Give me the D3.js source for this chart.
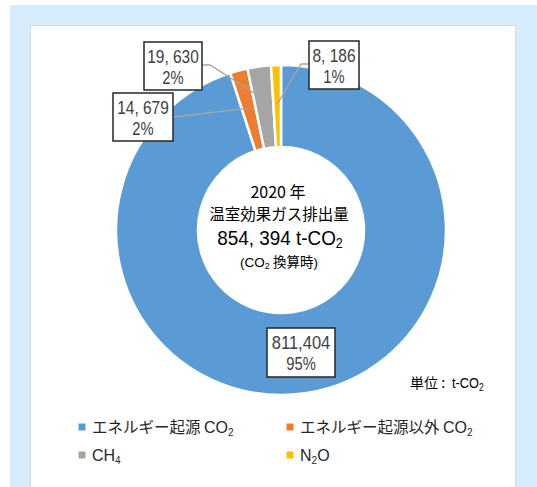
<!DOCTYPE html>
<html>
<head>
<meta charset="utf-8">
<script src="https://cdn.jsdelivr.net/npm/d3@7"></script>
<style>
  body { margin: 0; background: #fff; }
  svg { display: block; }
  .num { font-family: "Liberation Sans", Arial, sans-serif; }
  .jp { font-family: "Noto Sans CJK JP", sans-serif; }
</style>
</head>
<body>
<script>
// data
const categories = ["エネルギー起源 CO2", "エネルギー起源以外 CO2", "CH4", "N2O"];
const values = [811404, 14679, 19630, 8186];
const percents = ["95%", "2%", "2%", "1%"];
const colors = ["#5b9bd5", "#ed7d31", "#a5a5a5", "#ffc000"];
const totalLabel = "854,394";
const year = "2020";

const width = 537, height = 487;
const svg = d3.select("body").append("svg")
    .attr("width", width)
    .attr("height", height);

// panels
svg.append("rect").attr("x", 10).attr("y", 5).attr("width", 527).attr("height", 482).attr("fill", "#d6ebfb");
svg.append("rect").attr("x", 30.5).attr("y", 25.5).attr("width", 485).attr("height", 470)
    .attr("fill", "#fff").attr("stroke", "#d9d9d9").attr("stroke-width", 1);

const cx = 281, cy = 230, R = 165, r0 = 83;
const g = svg.append("g").attr("transform", `translate(${cx},${cy})`);

const pie = d3.pie().sort(null).value(d => d);
const arcs = pie(values);
const arc = d3.arc().innerRadius(r0).outerRadius(R);

g.selectAll("path.slice")
    .data(arcs)
    .enter()
    .append("path")
    .attr("class", "slice")
    .attr("d", arc)
    .attr("fill", (d, i) => colors[i])
    .attr("stroke", "#fff")
    .attr("stroke-width", 2.5);

// point on a slice's mid angle at given radius
function pt(d, rad) {
    const a = (d.startAngle + d.endAngle) / 2;
    return [cx + rad * Math.sin(a), cy - rad * Math.cos(a)];
}

// narrow text: squeeze horizontally around the anchor point
function narrow(x, y, sx) {
    return svg.append("g").attr("transform", `translate(${x},${y}) scale(${sx},1)`)
        .append("text").attr("class", "num");
}

// label boxes and leader lines
const boxes = [
    {x: 267, y: 328, w: 68, h: 49},
    {x: 113, y: 93, w: 60, h: 48, side: "right"},
    {x: 144, y: 42, w: 58, h: 48, side: "right"},
    {x: 309, y: 41, w: 50, h: 48, side: "left"}
];
const fmt = d3.format(",");

boxes.forEach((b, i) => {
    if (!b.side) return;
    const end = pt(arcs[i], i === 2 ? 132 : 126);
    const yMid = b.y + b.h / 2;
    let pts;
    if (b.side === "right") {
        const x0 = b.x + b.w;
        pts = i === 2 ? [[x0, yMid - 1], [x0 + 8, yMid - 1], end] : [[x0, yMid], end];
    } else {
        pts = [[b.x, yMid - 1], [b.x - 8, yMid - 1], end];
    }
    svg.append("path")
        .attr("d", d3.line()(pts))
        .attr("fill", "none")
        .attr("stroke", "#a6a6a6")
        .attr("stroke-width", 1.3);
});

boxes.forEach((b, i) => {
    svg.append("rect")
        .attr("x", b.x).attr("y", b.y).attr("width", b.w).attr("height", b.h)
        .attr("fill", "#fff").attr("stroke", "#262626").attr("stroke-width", 1.5);
    narrow(b.x + b.w / 2, b.y + 21, i === 0 ? 0.92 : 0.86)
        .attr("text-anchor", "middle").attr("fill", "#404040").attr("font-size", 18)
        .text(i === 0 ? fmt(values[i]) : fmt(values[i]).replace(/,/g, ", "));
    narrow(b.x + b.w / 2, b.y + 42, 0.82)
        .attr("text-anchor", "middle").attr("fill", "#404040").attr("font-size", 18)
        .text(percents[i]);
});

// center text
svg.append("text").attr("class", "jp").attr("x", 278).attr("y", 198)
    .attr("text-anchor", "middle").attr("font-size", 16).attr("fill", "#000")
    .text(year + " 年");
svg.append("text").attr("class", "jp").attr("x", 279).attr("y", 220)
    .attr("text-anchor", "middle").attr("font-size", 15.5).attr("fill", "#000")
    .text("温室効果ガス排出量");
const tot = narrow(280, 245, 0.9)
    .attr("text-anchor", "middle").attr("font-size", 21).attr("fill", "#000");
tot.append("tspan").text(totalLabel.replace(",", ", ") + "  t-CO");
tot.append("tspan").attr("font-size", 14).attr("dy", 3).text("2");
const sub = svg.append("text").attr("x", 279).attr("y", 267)
    .attr("text-anchor", "middle").attr("font-size", 13.5).attr("fill", "#000");
sub.append("tspan").attr("class", "num").text("(CO");
sub.append("tspan").attr("class", "num").attr("font-size", 9).attr("dy", 2).text("2");
sub.append("tspan").attr("class", "jp").attr("dy", -2).text(" 換算時");
sub.append("tspan").attr("class", "num").text(")");

// unit
svg.append("text").attr("class", "jp").attr("x", 410).attr("y", 388)
    .attr("font-size", 14).attr("fill", "#000").text("単位 :");
const unit = narrow(452, 388, 0.85).attr("font-size", 15).attr("fill", "#000");
unit.append("tspan").text("t-CO");
unit.append("tspan").attr("font-size", 10).attr("dy", 3).text("2");

// legend
const legendPos = [[82, 427], [290, 427], [82, 455], [290, 455]];
function subParts(s) {
    const m = s.match(/^(.*?)(CO|CH|N)(\d)(.*)$/);
    return m ? [m[1], m[2], m[3], m[4]] : [s, "", "", ""];
}
categories.forEach((c, i) => {
    const [lx, ly] = legendPos[i];
    svg.append("rect").attr("x", lx - 3.5).attr("y", ly - 3.5).attr("width", 7).attr("height", 7)
        .attr("fill", colors[i]);
    const p = subParts(c);
    const t = svg.append("text").attr("x", lx + 10).attr("y", ly + 6)
        .attr("font-size", 15.5).attr("fill", "#262626");
    if (p[0]) t.append("tspan").attr("class", "jp").text(p[0]);
    t.append("tspan").attr("class", "num").attr("font-size", 16).text(p[1]);
    t.append("tspan").attr("class", "num").attr("font-size", 10).attr("dy", 3).text(p[2]);
    if (p[3]) t.append("tspan").attr("class", "num").attr("font-size", 16).attr("dy", -3).text(p[3]);
});
</script>
</body>
</html>
